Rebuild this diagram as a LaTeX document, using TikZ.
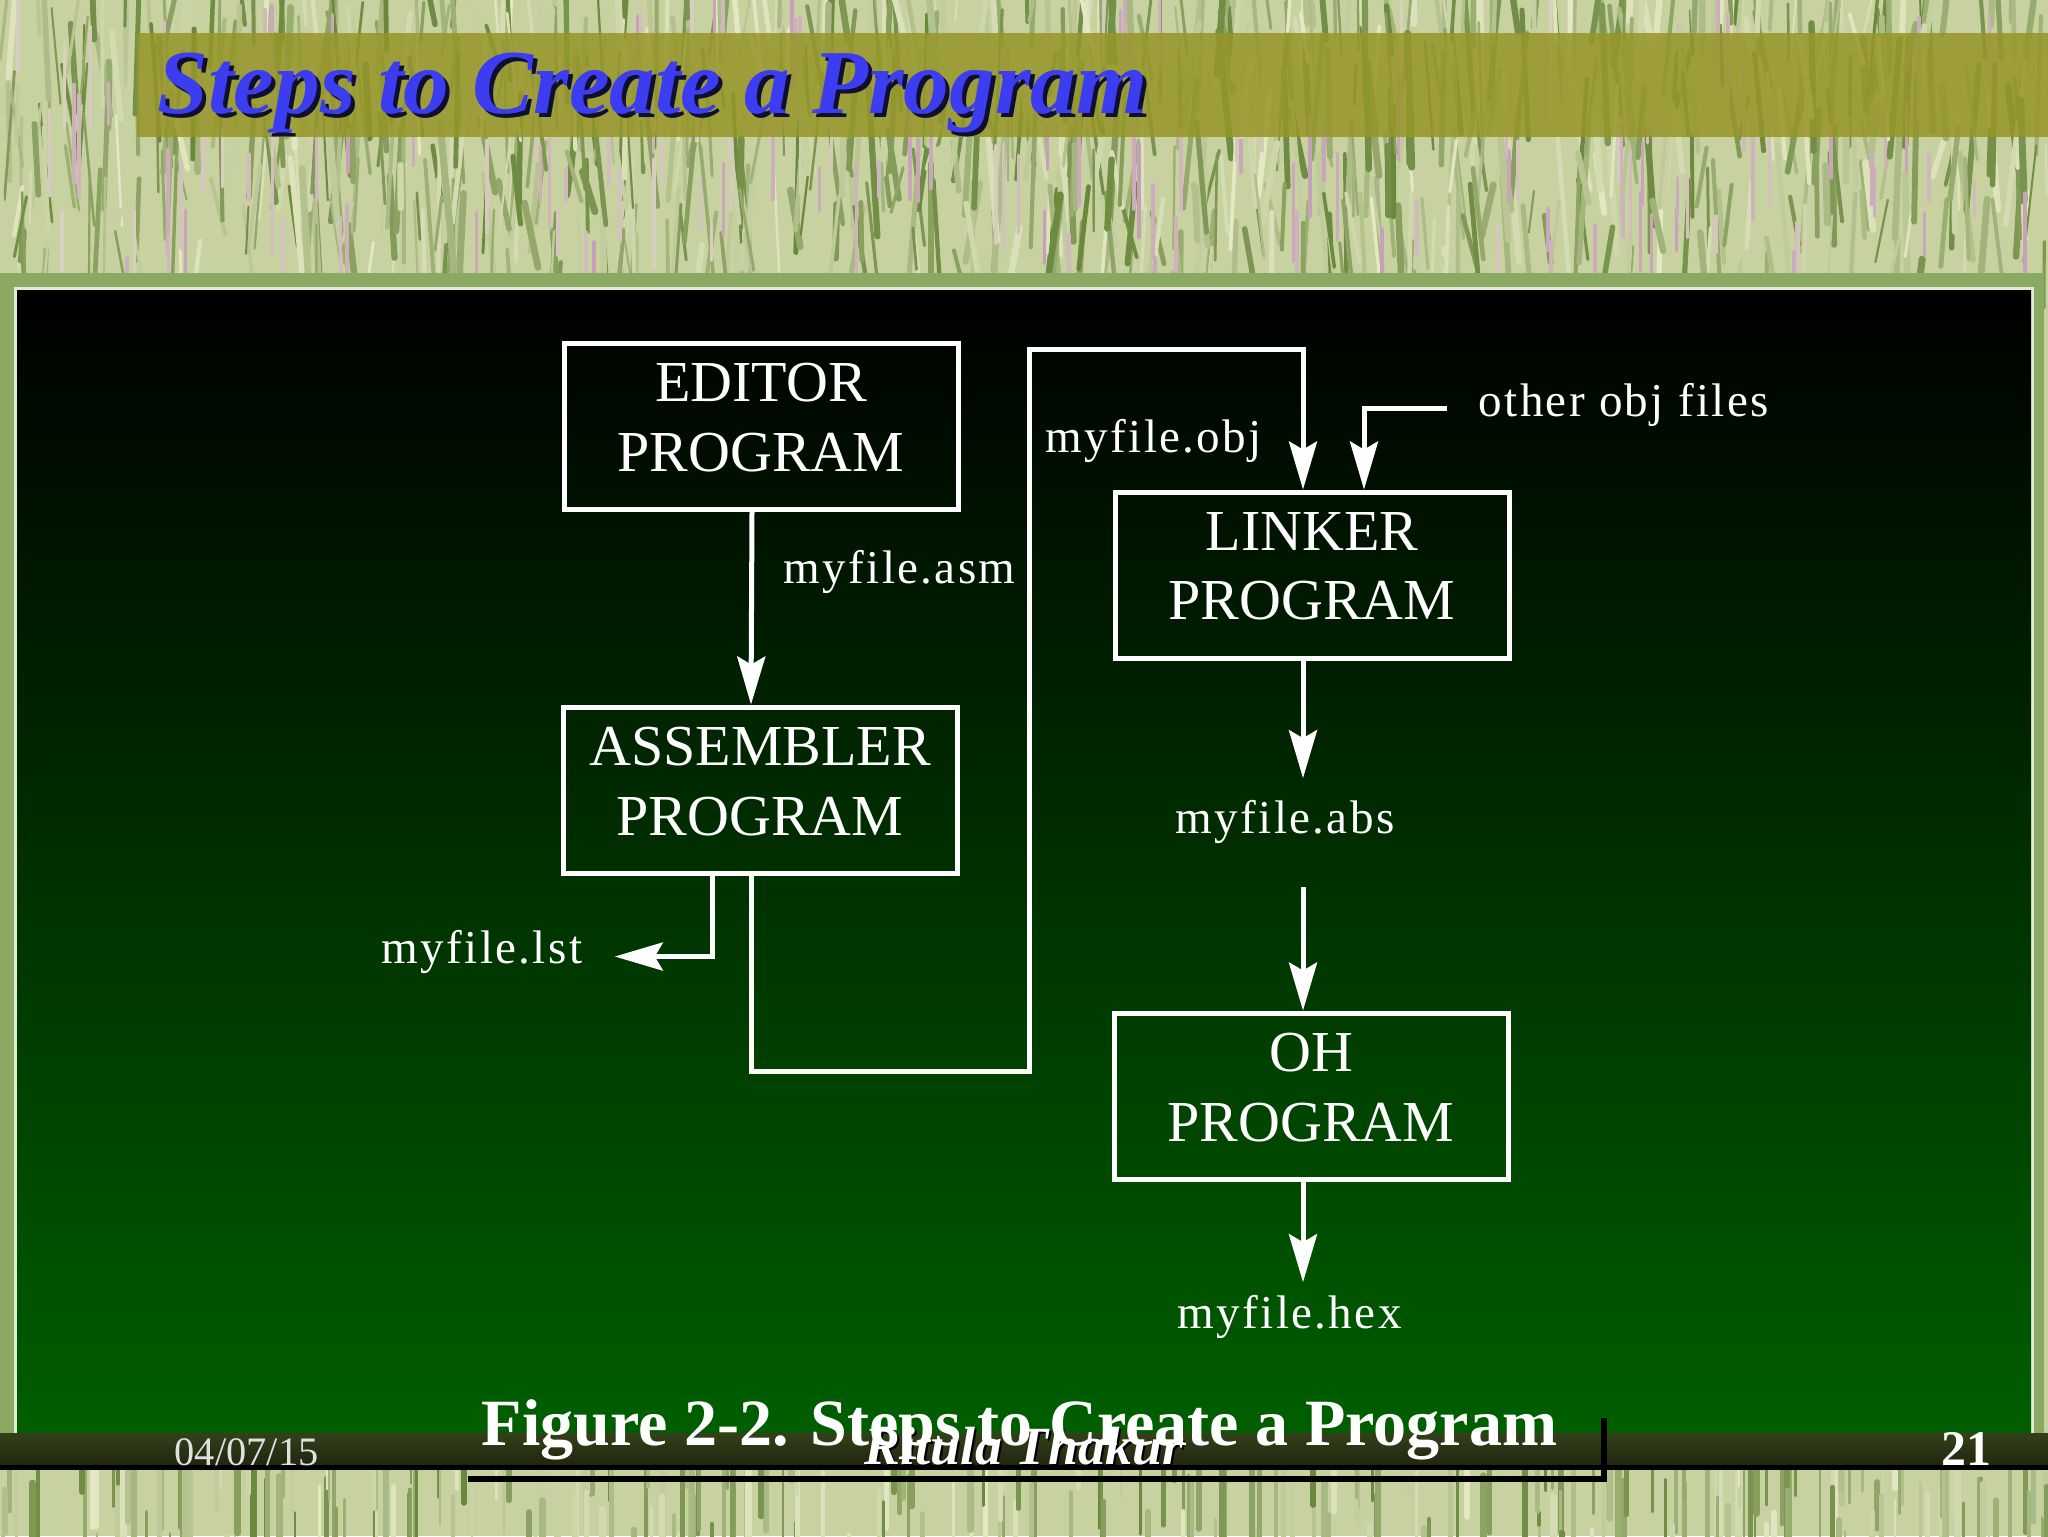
\documentclass[tikz,border=0pt]{standalone}
\usepackage{fontspec}
\setmainfont{Liberation Serif}
\newfontfamily\labelfont[LetterSpace=5]{Liberation Serif}
\usetikzlibrary{positioning,arrows.meta}
\definecolor{grassbase}{RGB}{200,210,160}
\definecolor{grassdark}{RGB}{105,135,60}
\definecolor{grasslight}{RGB}{228,232,195}
\definecolor{grasspink}{RGB}{195,150,185}
\definecolor{bandolive}{RGB}{150,150,40}
\definecolor{framegreen}{RGB}{138,170,100}
\definecolor{panelgreen}{RGB}{0,95,0}
\definecolor{titleblue}{RGB}{60,60,240}
\definecolor{titleshadow}{RGB}{15,15,50}
\definecolor{footband}{RGB}{52,64,26}

\begin{document}
\begin{tikzpicture}[x=0.1mm,y=-0.1mm,
  every node/.style={text=white,inner sep=0pt},
  block/.style={draw=white,line width=0.5mm,minimum width=39.4mm,minimum height=16.6mm,align=center,
    font=\fontsize{16.5}{19.9}\selectfont,execute at end node={\rule[-1.8mm]{0pt}{1.8mm}}},
  file/.style={anchor=base west,font=\labelfont\fontsize{13.4}{16}\selectfont},
  arrow/.style={draw=white,line width=0.5mm,-{Stealth[length=4.8mm,width=2.8mm,inset=0.8mm]}},
  blade/.style={line cap=round}
]
  \useasboundingbox (0,0) rectangle (2048,1536);
  \fill[grassbase] (0,0) rectangle (2048,1536);
  \pgfmathsetseed{7}
  \foreach \i in {1,...,900}{
    \pgfmathsetmacro{\gx}{rnd*2048}
    \pgfmathsetmacro{\gy}{20+rnd*300}
    \pgfmathsetmacro{\gl}{40+rnd*110}
    \pgfmathsetmacro{\gs}{(rnd-0.5)*30}
    \pgfmathsetmacro{\gw}{0.2+rnd*0.5}
    \pgfmathtruncatemacro{\gp}{rnd*100}
    \draw[blade,line width=\gw mm,grassdark!\gp!grasslight] (\gx,\gy) -- ++(\gs,-\gl);
  }
  \foreach \i in {1,...,150}{
    \pgfmathsetmacro{\gx}{rnd*2048}
    \pgfmathsetmacro{\gy}{60+rnd*260}
    \pgfmathsetmacro{\gl}{30+rnd*80}
    \pgfmathtruncatemacro{\gp}{30+rnd*60}
    \draw[blade,line width=0.35mm,grasspink!\gp!grasslight] (\gx,\gy) -- ++(0,-\gl);
  }
  \foreach \i in {1,...,300}{
    \pgfmathsetmacro{\gx}{rnd*2048}
    \pgfmathsetmacro{\gy}{1480+rnd*140}
    \pgfmathsetmacro{\gl}{40+rnd*100}
    \pgfmathsetmacro{\gw}{0.2+rnd*0.5}
    \pgfmathtruncatemacro{\gp}{rnd*100}
    \draw[blade,line width=\gw mm,grassdark!\gp!grasslight] (\gx,\gy) -- ++(0,-\gl);
  }

  \fill[bandolive,opacity=0.85] (137,33) rectangle (2048,137);
  \fill[framegreen] (0,273) rectangle (2044,1440);
  \fill[white!75!framegreen] (14,287) rectangle (2034,1440);
  \shade[top color=black,bottom color=panelgreen] (17,290) rectangle (2031,1440);
  \shade[top color=footband,bottom color=footband!55!black] (0,1433) rectangle (2048,1469);
  \fill[black] (0,1465) rectangle (2048,1470);
  \draw[black,line width=0.65mm] (468,1479) -- (1604,1479) -- (1604,1418);

  \node[anchor=base west,font=\fontsize{26}{30}\selectfont\bfseries\itshape,text=titleshadow] (titleshade) at (161,117) {Steps to Create a Program};
  \node[anchor=base west,font=\fontsize{26}{30}\selectfont\bfseries\itshape,text=titleblue] (title) at (157,113) {Steps to Create a Program};

  \node[block] (editor) at (761,426) {EDITOR\\PROGRAM};
  \node[block] (asm) at (760,790) {ASSEMBLER\\PROGRAM};
  \node[block] (linker) at (1312,575) {LINKER\\PROGRAM};
  \node[block] (oh) at (1311,1096) {OH\\PROGRAM};

  \node[file] (asmfile) at (783,583) {myfile.asm};
  \node[file] (objfile) at (1045,452) {myfile.obj};
  \node[file] (other) at (1478,416) {other obj files};
  \node[file] (lst) at (381,963) {myfile.lst};
  \node[file] (abs) at (1175,833) {myfile.abs};
  \node[file] (hex) at (1177,1328) {myfile.hex};
  \coordinate (spine) at (1303,0);

  \draw[arrow] ([xshift=-0.9mm]editor.south) -- ([xshift=-0.9mm]asm.north);
  \draw[arrow] ([xshift=-4.8mm]asm.south) |- ([xshift=3.2mm,yshift=-0.5mm]lst.east);
  \draw[arrow] ([xshift=-0.9mm]asm.south) -- ++(0,196) -| (1029,349) -| (spine |- linker.north);
  \draw[arrow] ([xshift=-3.1mm,yshift=-0.4mm]other.west) -| ([xshift=5.2mm]linker.north);
  \draw[arrow,shorten >=2.1mm] (spine |- linker.south) -- (spine |- abs.north);
  \draw[arrow,shorten <=4.3mm] (spine |- abs.south) -- (spine |- oh.north);
  \draw[arrow,shorten >=1.2mm] (spine |- oh.south) -- (spine |- hex.north);

  \node[anchor=base west,font=\fontsize{11.5}{14}\selectfont,text=white!88!black] (date) at (174,1465) {04/07/15};
  \node[anchor=base,font=\fontsize{15.3}{18}\selectfont\bfseries\itshape,text=black] (authorshade) at (1026,1466) {Ritula Thakur};
  \node[anchor=base,font=\fontsize{15.3}{18}\selectfont\bfseries\itshape] (author) at (1024,1464) {Ritula Thakur};
  \node[anchor=base east,font=\fontsize{14.2}{17}\selectfont\bfseries] (page) at (1992,1465) {21};
  \node[anchor=base west,font=\fontsize{18.8}{22}\selectfont\bfseries] (caption) at (481,1445) {Figure 2-2. Steps to Create a Program};
\end{tikzpicture}
\end{document}
